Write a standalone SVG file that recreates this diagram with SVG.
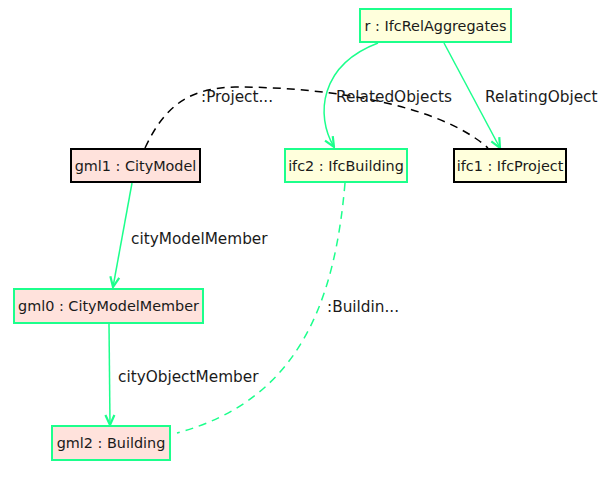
<svg xmlns="http://www.w3.org/2000/svg" width="608" height="489" viewBox="0 0 608 489">
<style>
.bg{fill:#ffffff}
.n rect{stroke-width:2}
.gml rect{fill:#ffe2dc}
.ifc rect{fill:#ffffdc}
.g rect{stroke:#1cff8c}
.k rect{stroke:#000000}
.n text{font-family:"DejaVu Sans",sans-serif;font-size:14.4px;fill:#1a1a1a;text-anchor:middle}
.e{fill:none;stroke-width:1.5}
.eg{stroke:#1cff8c}
.ek{stroke:#000000}
.d{stroke-dasharray:8,6}
.lbl{font-family:"DejaVu Sans",sans-serif;font-size:15.3px;fill:#1a1a1a}
</style>
<defs>
<marker id="ag" viewBox="0 0 12 12" refX="11" refY="6" markerWidth="12" markerHeight="12" markerUnits="userSpaceOnUse" orient="auto">
<path d="M1,1.5 L11,6 L1,10.5" fill="none" stroke="#1cff8c" stroke-width="2.2"/>
</marker>
</defs>
<rect class="bg" x="0" y="0" width="608" height="489"/>
<g id="connectors">
<path class="e ek d" d="M145,148 C165,105 190,88 235,87 C330,87 440,105 488,148"/>
<path class="e eg" d="M378,43 C320,65 315,115 334,147" marker-end="url(#ag)"/>
<path class="e eg" d="M444,43 L500,148" marker-end="url(#ag)"/>
<path class="e eg" d="M132,183 L113,287" marker-end="url(#ag)"/>
<path class="e eg" d="M109,324 L110,425" marker-end="url(#ag)"/>
<path class="e eg d" d="M345,183 C335,300 300,400 177,433"/>
<text class="lbl" x="201" y="102">:Project...</text>
<text class="lbl" x="336" y="102">RelatedObjects</text>
<text class="lbl" x="485" y="102">RelatingObject</text>
<text class="lbl" x="131" y="244">cityModelMember</text>
<text class="lbl" x="118" y="382">cityObjectMember</text>
<text class="lbl" x="327" y="312">:Buildin...</text>
</g>
<g id="r" class="n ifc g"><rect x="360" y="9" width="151" height="33"/><text x="435.5" y="30.5">r : IfcRelAggregates</text></g>
<g id="ifc1" class="n ifc k"><rect x="454" y="149" width="112" height="33"/><text x="510" y="170.5">ifc1 : IfcProject</text></g>
<g id="ifc2" class="n ifc g"><rect x="285" y="149" width="122" height="33"/><text x="346" y="170.5">ifc2 : IfcBuilding</text></g>
<g id="gml1" class="n gml k"><rect x="71" y="149" width="129" height="33"/><text x="135.5" y="170.5">gml1 : CityModel</text></g>
<g id="gml0" class="n gml g"><rect x="14" y="289" width="189" height="34"/><text x="108.5" y="311">gml0 : CityModelMember</text></g>
<g id="gml2" class="n gml g"><rect x="52" y="426" width="118" height="34"/><text x="111" y="448">gml2 : Building</text></g>
</svg>
